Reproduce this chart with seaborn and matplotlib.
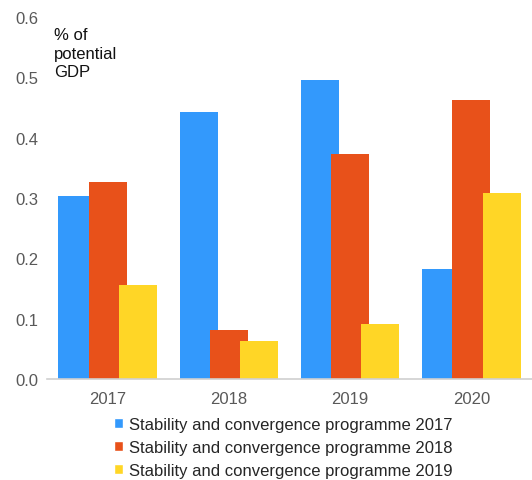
import matplotlib
matplotlib.use("Agg")
import matplotlib.pyplot as plt
import seaborn as sns
import pandas as pd

years = ["2017", "2018", "2019", "2020"]
series = ["Stability and convergence programme 2017",
          "Stability and convergence programme 2018",
          "Stability and convergence programme 2019"]
scp_2017 = [0.303, 0.443, 0.496, 0.182]
scp_2018 = [0.327, 0.081, 0.373, 0.462]
scp_2019 = [0.156, 0.063, 0.091, 0.308]
colors = ["#3399fc", "#e8511a", "#ffd626"]
yticks = [0.0, 0.1, 0.2, 0.3, 0.4, 0.5, 0.6]

df = pd.DataFrame({
    "year": years * 3,
    "series": [series[0]] * 4 + [series[1]] * 4 + [series[2]] * 4,
    "value": scp_2017 + scp_2018 + scp_2019,
})

sns.set_theme(style="white")
plt.rcParams["font.family"] = ["Liberation Sans", "DejaVu Sans"]

fig = plt.figure(figsize=(5.32, 4.81), dpi=100)
ax = fig.add_axes([47 / 532, 1 - 380 / 481, 485 / 532, 362 / 481])

sns.barplot(data=df, x="year", y="value", hue="series", order=years,
            hue_order=series, palette=colors, width=0.75, dodge=True,
            saturation=1, errorbar=None, ax=ax, legend=True)

# widen the bars so neighbours overlap slightly
bar_w = 0.313
for p in ax.patches[:12]:
    c = p.get_x() + p.get_width() / 2
    p.set_width(bar_w)
    p.set_x(c - bar_w / 2)
    p.set_linewidth(0)

ax.set_xlim(-0.5, 3.5)
ax.set_ylim(0, 0.6)
ax.set_yticks(yticks)
ax.set_yticklabels([f"{t:.1f}" for t in yticks])
ax.set_xlabel("")
ax.set_ylabel("")
for s in ["top", "right", "left"]:
    ax.spines[s].set_visible(False)
ax.spines["bottom"].set_color("#d0d0d0")
ax.spines["bottom"].set_linewidth(1.2)
ax.tick_params(axis="both", length=0, labelsize=12, colors="#595959", pad=6)
ax.tick_params(axis="x", pad=9)

ax.text(54 / 532, 1 - 28 / 481, "% of\npotential\nGDP", transform=fig.transFigure,
        ha="left", va="top", fontsize=12, color="#111111", linespacing=1.3)

ax.legend(loc="upper left", bbox_to_anchor=(114 / 532, 1 - 418 / 481),
          bbox_transform=fig.transFigure, frameon=False, fontsize=12,
          handlelength=0.55, handleheight=0.55, handletextpad=0.35,
          labelspacing=0.48, borderaxespad=0, borderpad=0)

fig.savefig("out.png", dpi=100)
